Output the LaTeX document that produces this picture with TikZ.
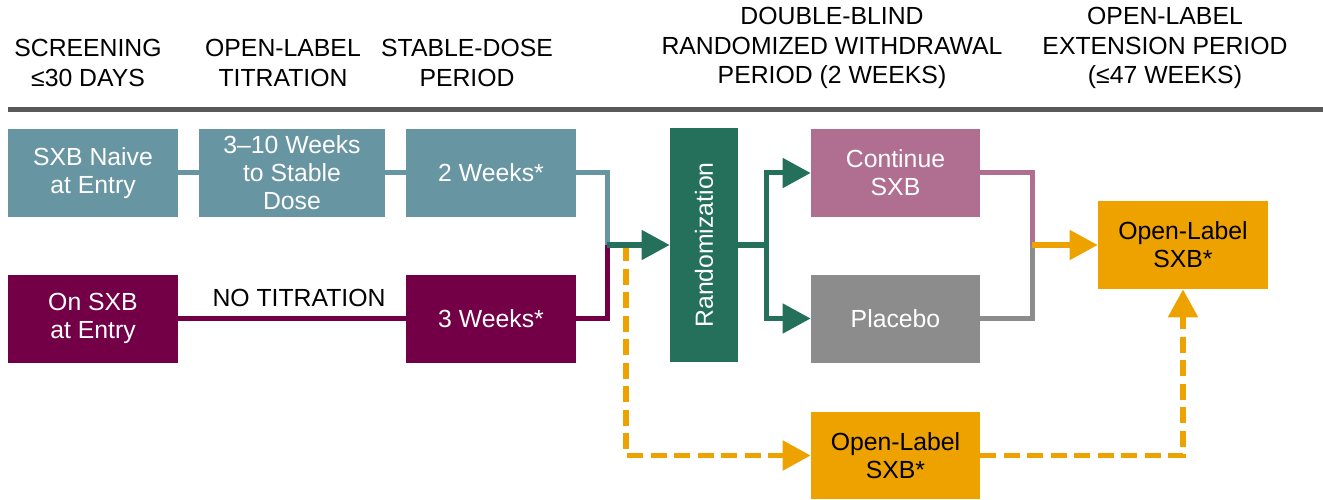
\documentclass[tikz,border=0pt]{standalone}
\usepackage{fontspec}
\setmainfont{Liberation Sans}
\usetikzlibrary{arrows.meta}
\definecolor{cBlue}{HTML}{6895A2}
\definecolor{cPlum}{HTML}{730046}
\definecolor{cGreen}{HTML}{25705A}
\definecolor{cPink}{HTML}{B06E91}
\definecolor{cGray}{HTML}{8C8C8C}
\definecolor{cOrange}{HTML}{EDA200}
\definecolor{cRule}{HTML}{595959}
\begin{document}
\begin{tikzpicture}[>={Triangle[length=0.56cm,width=0.58cm]},
	box/.style={rectangle,minimum width=3.4cm,minimum height=1.76cm,inner sep=0pt,text=white,align=center,font=\fontsize{14.1}{16}\selectfont},
	head/.style={align=center,font=\fontsize{14.1}{16.8}\selectfont},
	link/.style={line width=0.1cm},
	dash line/.style={line width=0.11cm,dash pattern=on 0.32cm off 0.15cm}]
			\useasboundingbox(0,0)rectangle(26.46,9.98);
			% period headers
			\node[head](H1)at(1.76,8.72){SCREENING\\≤30 DAYS};
			\node[head](H2)at(5.66,8.72){OPEN-LABEL\\TITRATION};
			\node[head](H3)at(9.34,8.72){STABLE-DOSE\\PERIOD};
			\node[head](H4)at(16.64,9.02){DOUBLE-BLIND\\RANDOMIZED WITHDRAWAL\\PERIOD (2 WEEKS)};
			\node[head](H5)at(23.30,9.02){OPEN-LABEL\\EXTENSION PERIOD\\(≤47 WEEKS)};
			\coordinate(R0)at(0.16,7.78);
			\coordinate(R1)at(26.46,7.78);
			\draw[link,cRule](R0)--(R1);
			% boxes
			\node[box,fill=cBlue](naive)at(1.86,6.52){SXB Naive\\at Entry};
			\node[box,fill=cBlue,minimum width=3.72cm](titr)at(5.84,6.52){3–10 Weeks\\to Stable\\Dose};
			\node[box,fill=cBlue](stab)at(9.82,6.52){2 Weeks*};
			\node[box,fill=cPlum](onsxb)at(1.86,3.61){On SXB\\at Entry};
			\node[box,fill=cPlum](three)at(9.82,3.61){3 Weeks*};
			\node[box,fill=cGreen,minimum width=1.36cm,minimum height=4.68cm](rand)at(14.08,5.08){\rotatebox{90}{Randomization}};
			\node[box,fill=cPink,minimum width=3.38cm](cont)at(17.91,6.52){Continue\\SXB};
			\node[box,fill=cGray,minimum width=3.38cm](plac)at(17.91,3.61){Placebo};
			\node[box,fill=cOrange,text=black](olR)at(23.66,5.08){Open-Label\\SXB*};
			\node[box,fill=cOrange,text=black,minimum width=3.38cm,minimum height=1.74cm](olB)at(17.91,0.87){Open-Label\\SXB*};
			\node[head](notit)at(5.98,4.02){NO TITRATION};
			% connectors
			\coordinate(J1)at(12.14,5.08);
			\coordinate(J2)at(15.32,5.08);
			\coordinate(J3)at(20.64,5.08);
			\coordinate(D1)at(12.52,5.08);
			\draw[link,cBlue](naive)--(titr);
			\draw[link,cBlue](titr)--(stab);
			\draw[link,cPlum](onsxb)--(three);
			\draw[dash line,cOrange,->](D1)|-(olB.west);
			\draw[dash line,cOrange,->](olB.east)-|(olR.south);
			\draw[link,cBlue](stab.east)-|(J1);
			\draw[link,cPlum](three.east)-|(J1);
			\draw[link,cGreen,->](J1)--(rand.west);
			\draw[link,cGreen](rand.east)--(J2);
			\draw[link,cGreen,->](J2)|-(cont.west);
			\draw[link,cGreen,->](J2)|-(plac.west);
			\draw[link,cPink](cont.east)-|(J3);
			\draw[link,cGray](plac.east)-|(J3);
			\draw[link,cOrange,->](J3)--(olR.west);
		\end{tikzpicture}
\end{document}
